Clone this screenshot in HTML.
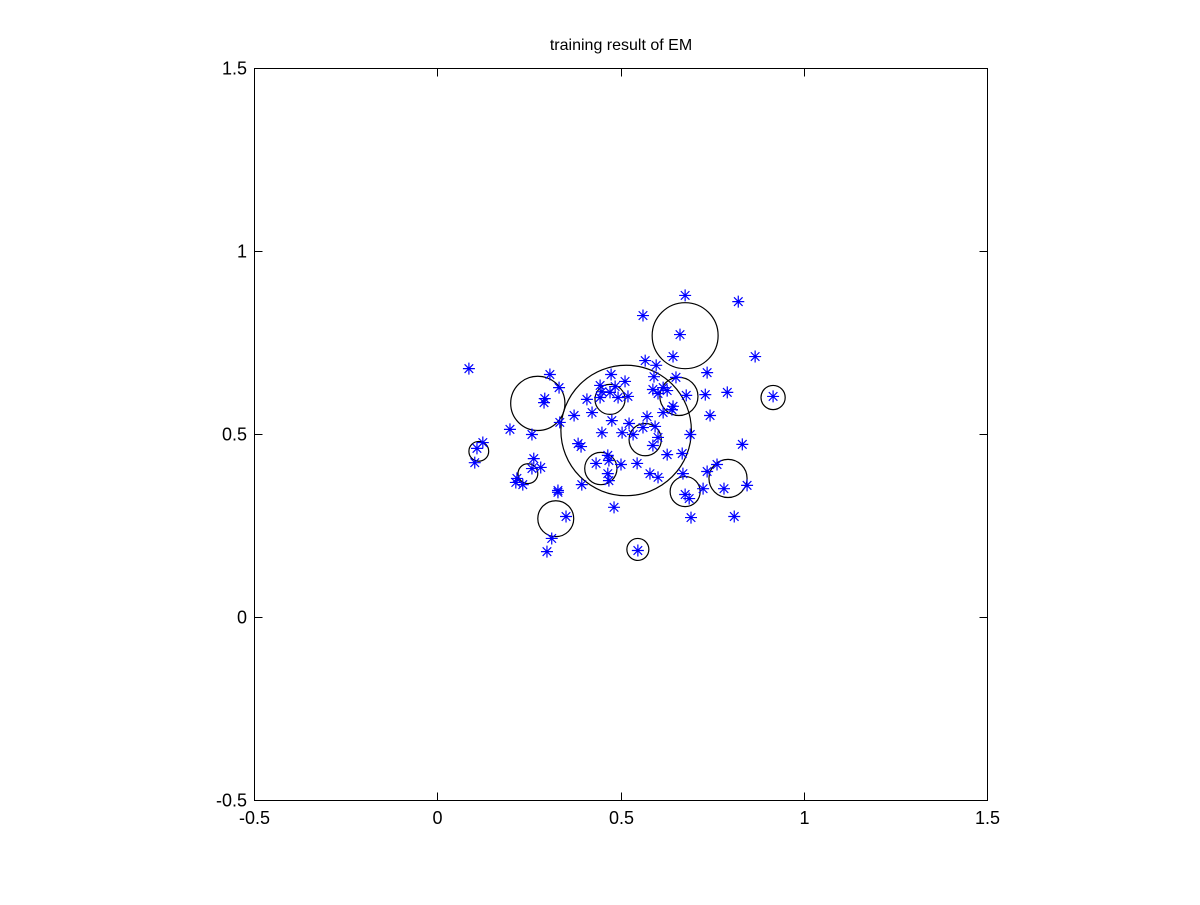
<!DOCTYPE html>
<html><head><meta charset="utf-8"><style>
body{margin:0;background:#fff;}
svg text{font-family:"Liberation Sans",Arial,sans-serif;fill:#000;}
</style></head><body>
<svg id="chart" width="1200" height="900" xmlns="http://www.w3.org/2000/svg">
<rect width="1200" height="900" fill="#fff"/>
<text x="621" y="50" font-size="16" text-anchor="middle">training result of EM</text>
<g id="ticks"></g>
<g id="circles"></g>
<g id="points"></g>
<rect x="254.5" y="68.5" width="733" height="732" fill="none" stroke="#000" stroke-width="1"/>
</svg>
<script>
const xTicks=[-0.5,0,0.5,1,1.5];
const yTicks=[-0.5,0,0.5,1,1.5];
const xTickLabels=["-0.5","0","0.5","1","1.5"];
const yTickLabels=["-0.5","0","0.5","1","1.5"];
const pointsX=[0.085,0.306,0.331,0.292,0.290,0.372,0.333,0.407,0.421,0.443,0.473,0.484,0.470,0.448,0.443,0.492,0.475,0.197,0.675,0.820,0.560,0.661,0.642,0.866,0.566,0.596,0.735,0.511,0.590,0.650,0.587,0.615,0.626,0.601,0.678,0.730,0.790,0.915,0.519,0.642,0.639,0.615,0.743,0.571,0.522,0.560,0.593,0.257,0.448,0.503,0.123,0.107,0.101,0.383,0.391,0.262,0.257,0.281,0.216,0.213,0.232,0.328,0.328,0.464,0.467,0.432,0.500,0.464,0.467,0.393,0.481,0.350,0.311,0.298,0.533,0.601,0.689,0.587,0.831,0.626,0.667,0.544,0.762,0.735,0.669,0.579,0.601,0.844,0.724,0.781,0.675,0.686,0.809,0.691,0.546];
const pointsY=[0.680,0.664,0.628,0.598,0.587,0.552,0.533,0.596,0.560,0.634,0.664,0.631,0.615,0.617,0.601,0.601,0.538,0.514,0.880,0.863,0.825,0.773,0.713,0.713,0.702,0.689,0.669,0.645,0.658,0.656,0.623,0.628,0.620,0.612,0.607,0.609,0.615,0.604,0.604,0.577,0.568,0.560,0.552,0.549,0.530,0.519,0.522,0.500,0.505,0.505,0.478,0.462,0.423,0.475,0.467,0.434,0.407,0.410,0.380,0.369,0.363,0.347,0.342,0.443,0.429,0.421,0.418,0.393,0.374,0.363,0.301,0.276,0.216,0.180,0.500,0.492,0.500,0.470,0.473,0.445,0.448,0.421,0.418,0.399,0.393,0.393,0.383,0.361,0.352,0.352,0.336,0.325,0.276,0.273,0.183];
const circleX=[0.514,0.273,0.470,0.675,0.658,0.915,0.112,0.246,0.322,0.445,0.566,0.675,0.792,0.546];
const circleY=[0.511,0.585,0.596,0.770,0.604,0.601,0.454,0.393,0.270,0.407,0.486,0.344,0.380,0.186];
const circleR=[0.178,0.074,0.041,0.090,0.052,0.033,0.027,0.027,0.049,0.044,0.044,0.041,0.052,0.030];

const X0=254.5,X1=987.5,Y0=800.5,Y1=68.5;
const sx=v=>X0+(v+0.5)/2*(X1-X0);
const sy=v=>Y0-(v+0.5)/2*(Y0-Y1);
const NS="http://www.w3.org/2000/svg";
function mk(tag,attrs,parent){const e=document.createElementNS(NS,tag);for(const k in attrs)e.setAttribute(k,attrs[k]);parent.appendChild(e);return e;}
const tg=document.getElementById('ticks');
xTicks.forEach((t,i)=>{
  const x=Math.round(sx(t)-0.5)+0.5;
  let l=mk('line',{x1:x,x2:x,y1:Y0,y2:Y0-8,stroke:'#000'},tg);
  
  
  l=mk('line',{x1:x,x2:x,y1:Y1,y2:Y1+8,stroke:'#000'},tg);
  
  
  const tx=mk('text',{x:x,y:824,'font-size':18,'text-anchor':'middle'},tg);
  tx.textContent=xTickLabels[i];
  
  
});
yTicks.forEach((t,i)=>{
  const y=Math.round(sy(t)-0.5)+0.5;
  let l=mk('line',{x1:X0,x2:X0+8,y1:y,y2:y,stroke:'#000'},tg);
  
  
  l=mk('line',{x1:X1,x2:X1-8,y1:y,y2:y,stroke:'#000'},tg);
  
  
  const tx=mk('text',{x:247,y:y+6,'font-size':18,'text-anchor':'end'},tg);
  tx.textContent=yTickLabels[i];
  
  
});
const cg=document.getElementById('circles');
const k=(X1-X0)/2;
circleX.forEach((cx,i)=>{
  const c=mk('circle',{cx:sx(cx),cy:sy(circleY[i]),r:circleR[i]*k,fill:'none',stroke:'#000','stroke-width':1.2},cg);
  
  
});
const pg=document.getElementById('points');
pointsX.forEach((px,i)=>{
  const x=sx(px),y=sy(pointsY[i]);const a=6,b=4.3;
  const d=`M${x-a},${y}H${x+a}M${x},${y-a}V${y+a}M${x-b},${y-b}L${x+b},${y+b}M${x-b},${y+b}L${x+b},${y-b}`;
  const p=mk('path',{d:d,stroke:'#0000ff','stroke-width':1.2,fill:'none'},pg);
  
  
});
</script>
</body></html>
